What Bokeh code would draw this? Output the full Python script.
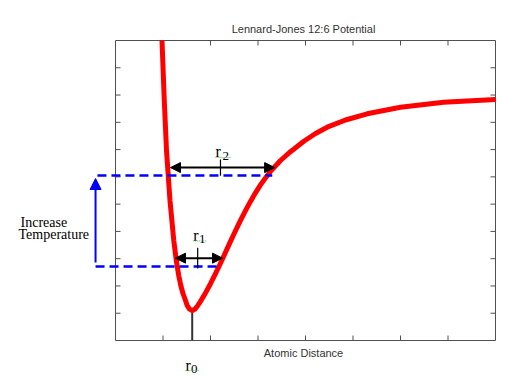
import math
from bokeh.plotting import figure
from bokeh.models import Range1d, Arrow, NormalHead
from bokeh.core.properties import value
from bokeh.embed import file_html
from bokeh.resources import INLINE

# ---- data ----
curve_x = [0.979, 1.027, 1.074, 1.147, 1.227, 1.280, 1.331, 1.375, 1.421, 1.474,
           1.509, 1.558, 1.615,
           1.669, 1.726, 1.789, 1.895, 2.0, 2.105, 2.211, 2.316, 2.421, 2.526,
           2.632, 2.737, 2.842, 2.947, 3.053, 3.158, 3.263, 3.474, 3.684, 3.958,
           4.211, 4.457, 4.842, 5.299, 6.0, 6.905, 8.0]
curve_y = [11.0, 8.8, 6.967, 5.133, 3.667, 2.933, 2.383, 2.017, 1.723, 1.467,
           1.283, 1.151, 1.100,
           1.144, 1.265, 1.434, 1.745, 2.083, 2.449, 2.834, 3.234, 3.634, 4.026,
           4.404, 4.759, 5.100, 5.416, 5.705, 5.962, 6.200, 6.600, 6.923, 7.297,
           7.590, 7.821, 8.085, 8.313, 8.554, 8.738, 8.837]
x_box = [0, 8]
y_box = [0, 11]
x_ticks = [1, 2, 3, 4, 5, 6, 7]
y_ticks = [1, 2, 3, 4, 5, 6, 7, 8, 9, 10]
r0_x = 1.615
r0_y = 1.10
level_low = 2.71      # lower temperature level
level_high = 6.05     # higher temperature level
level_low_span = [-0.42, 2.21]
level_high_span = [-0.38, 3.30]
r1_span = [1.263, 2.253]
r1_y = 3.02
r1_mid = 1.73
r2_span = [1.158, 3.35]
r2_y = 6.34
r2_mid = 2.21
temp_arrow_x = -0.42
temp_arrow_y = [2.86, 5.94]

title_text = "Lennard-Jones 12:6 Potential"
title_pos = (3.958, 11.44)
xlabel_text = "Atomic Distance"
xlabel_pos = (3.958, -0.44)
temp_lines = ["Increase", "Temperature"]
temp_x = [-2.0, -2.042]
temp_y = [4.34, 3.905]
# r labels: letter position, subscript position, subscript digit
r_x = [2.105, 1.636, 1.474]
r_y = [6.94, 3.85, -0.917]
sub_x = [2.253, 1.758, 1.589]
sub_y = [6.78, 3.72, -1.027]
sub_text = ["2", "1", "0"]

# page pixels: box spans 115..495 x 40..340 in a 527x379 canvas
p = figure(width=527, height=379,
           x_range=Range1d(-115 / 47.5, (527 - 115) / 47.5),
           y_range=Range1d((340 - 379) / (300 / 11), 340 / (300 / 11)),
           output_backend="svg", toolbar_location=None, title=None,
           x_axis_location=None, y_axis_location=None,
           min_border=0)
p.min_border_left = p.min_border_right = p.min_border_top = p.min_border_bottom = 0
p.background_fill_color = "white"
p.border_fill_color = "white"
p.outline_line_color = None
p.grid.visible = False

axis_col = "#505050"
# plot box
p.rect(x=[(x_box[0] + x_box[1]) / 2], y=[(y_box[0] + y_box[1]) / 2],
       width=x_box[1] - x_box[0], height=y_box[1] - y_box[0],
       fill_color=None, line_color=axis_col, line_width=1)
# inward ticks on all four sides
p.ray(x=x_ticks, y=[y_box[0]] * len(x_ticks), length=5, length_units="screen",
      angle=math.pi / 2, line_color=axis_col)
p.ray(x=x_ticks, y=[y_box[1]] * len(x_ticks), length=5, length_units="screen",
      angle=-math.pi / 2, line_color=axis_col)
p.ray(x=[x_box[0]] * len(y_ticks), y=y_ticks, length=5, length_units="screen",
      angle=0, line_color=axis_col)
p.ray(x=[x_box[1]] * len(y_ticks), y=y_ticks, length=5, length_units="screen",
      angle=math.pi, line_color=axis_col)

# r0 marker line
p.segment(x0=[r0_x], y0=[y_box[0]], x1=[r0_x], y1=[r0_y], line_color="#333333",
          line_width=2)

# curve
p.line(curve_x, curve_y, line_color="#ff0000", line_width=5, line_join="round",
       line_cap="butt")

blue = "#0000ff"
# dashed temperature levels
p.segment(x0=[level_low_span[0], level_high_span[0]], y0=[level_low, level_high],
          x1=[level_low_span[1], level_high_span[1]], y1=[level_low, level_high],
          line_color=blue, line_width=2.5, line_dash="9 5")

# r arrows
for span, yy, mid, half in ((r1_span, r1_y, r1_mid, 0.38), (r2_span, r2_y, r2_mid, 0.3)):
    p.add_layout(Arrow(x_start=span[0], y_start=yy, x_end=span[1], y_end=yy,
                       start=NormalHead(size=10, fill_color="black", line_color="black"),
                       end=NormalHead(size=10, fill_color="black", line_color="black"),
                       line_color="black", line_width=2))
    p.segment(x0=[mid], y0=[yy - half], x1=[mid], y1=[yy + half], line_color="black",
              line_width=1.2)

# temperature arrow
p.add_layout(Arrow(x_start=temp_arrow_x, y_start=temp_arrow_y[0], x_end=temp_arrow_x,
                   y_end=temp_arrow_y[1],
                   end=NormalHead(size=11, fill_color=blue, line_color=blue),
                   line_color=blue, line_width=2))

serif = value("Liberation Serif")
sans = value("Liberation Sans")

p.text(x=[title_pos[0], xlabel_pos[0]], y=[title_pos[1], xlabel_pos[1]],
       text=[title_text, xlabel_text], text_font=sans, text_font_size=value("11px"),
       text_align="center", text_baseline="middle", text_color="#333333")
p.text(x=temp_x, y=temp_y, text=temp_lines, text_font=serif,
       text_font_size=value("14px"), text_align="left", text_baseline="alphabetic",
       text_color="black")
p.text(x=r_x, y=r_y, text=["r"] * 3, text_font=serif, text_font_size=value("16px"),
       text_align="left", text_baseline="alphabetic", text_color="black")
p.text(x=sub_x, y=sub_y, text=sub_text, text_font=serif, text_font_size=value("13px"),
       text_align="left", text_baseline="alphabetic", text_color="black")
# spell-check style green underline
p.segment(x0=r_x, y0=[v - 0.07 for v in sub_y], x1=[v + 0.17 for v in sub_x],
          y1=[v - 0.07 for v in sub_y], line_color="#5cb85c", line_width=1,
          line_dash="1 1")

open("out.html", "w").write(file_html(p, INLINE))
